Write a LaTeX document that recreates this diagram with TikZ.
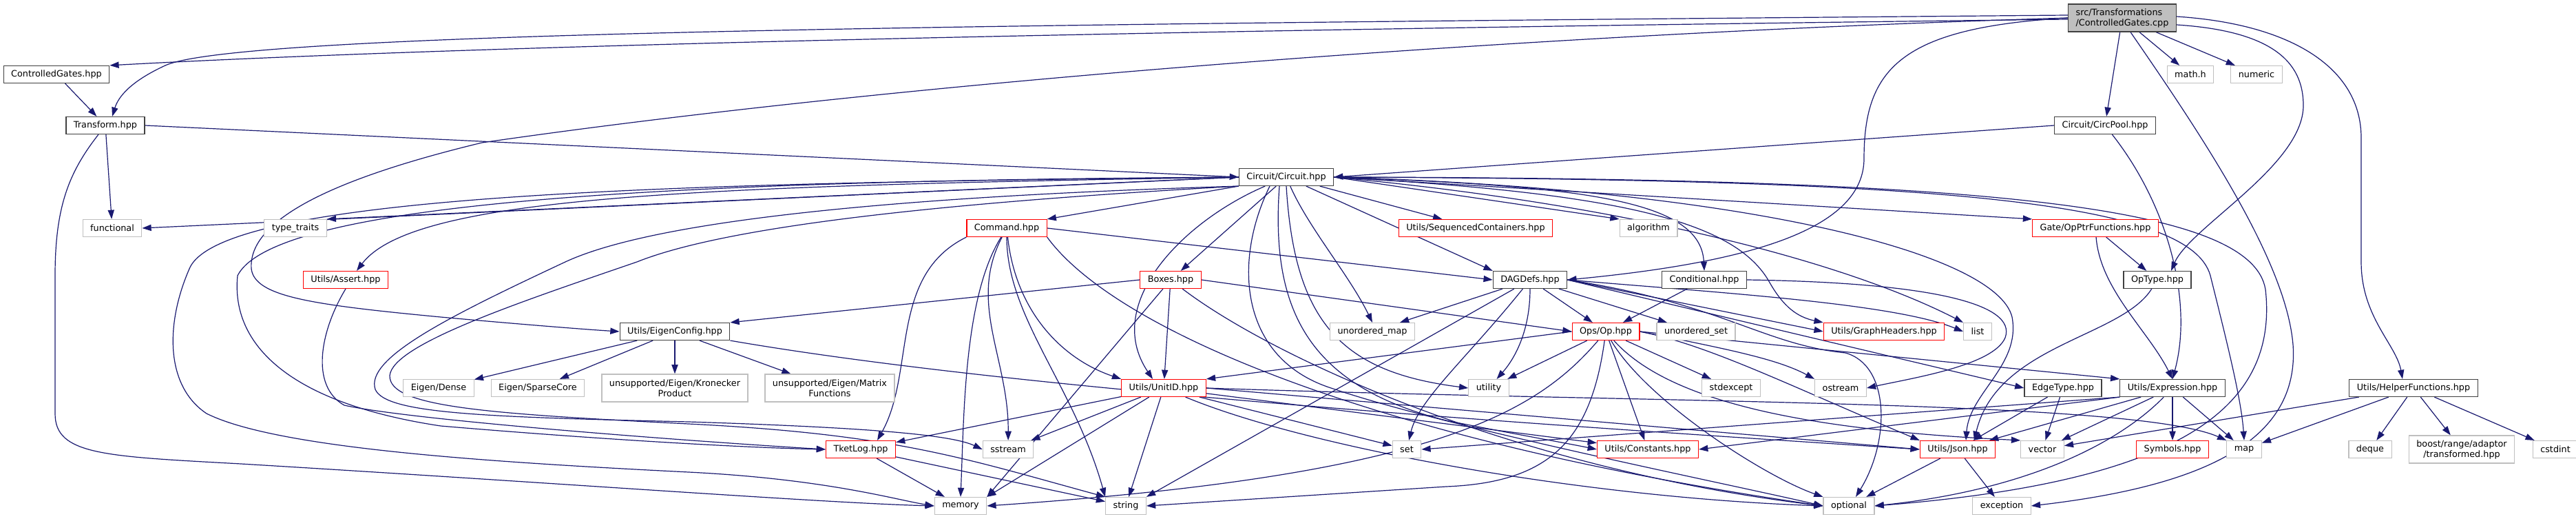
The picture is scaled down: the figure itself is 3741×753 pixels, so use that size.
\documentclass[tikz,border=0pt]{standalone}
\usepackage{fontspec}
\setmainfont{DejaVu Sans}
\usepackage{tikz}
\usetikzlibrary{arrows.meta}
\usetikzlibrary{backgrounds}
\definecolor{edgeblue}{RGB}{25,25,112}
\definecolor{grey75}{RGB}{191,191,191}
\definecolor{grey25}{RGB}{64,64,64}

\begin{document}
\begin{tikzpicture}[x=0.5pt,y=-0.5pt,
  every node/.style={draw,rectangle,fill=white,inner xsep=5.5pt,inner ysep=0pt,
    minimum height=12.5pt,line width=0.6pt,font=\fontsize{6.4}{7.5}\selectfont},
  root/.style={draw=grey25,fill=grey75,align=left,minimum height=20pt},
  hdr/.style={draw=grey25},
  cut/.style={draw=red},
  sys/.style={draw=grey75},
  two/.style={align=center,minimum height=20pt},
  inc/.style={draw=edgeblue,line width=0.6pt,-{Triangle[length=6.6pt,width=4.6pt]}}]
\useasboundingbox (0,0) rectangle (3741,753);
\node[root] (cpp) at (3082,26) {src/Transformations\\/ControlledGates.cpp};
\node[hdr] (cgh) at (82,108) {ControlledGates.hpp};
\node[sys] (mathh) at (3181,108) {math.h};
\node[sys] (numeric) at (3277,108) {numeric};
\node[hdr] (transform) at (153,182) {Transform.hpp};
\node[hdr] (circpool) at (3057,182) {Circuit/CircPool.hpp};
\node[hdr] (circuit) at (1868,257) {Circuit/Circuit.hpp};
\node[sys] (functional) at (163,331) {functional};
\node[sys] (typetraits) at (429,331) {type\_traits};
\node[cut] (command) at (1462,331) {Command.hpp};
\node[cut] (seqcont) at (2143,331) {Utils/SequencedContainers.hpp};
\node[sys] (algorithm) at (2394,331) {algorithm};
\node[cut] (opptr) at (3043,331) {Gate/OpPtrFunctions.hpp};
\node[cut] (assert) at (502,406) {Utils/Assert.hpp};
\node[cut] (boxes) at (1700,406) {Boxes.hpp};
\node[hdr] (dagdefs) at (2222,406) {DAGDefs.hpp};
\node[hdr] (conditional) at (2475,406) {Conditional.hpp};
\node[hdr] (optype) at (3133,406) {OpType.hpp};
\node[hdr] (eigencfg) at (980,481) {Utils/EigenConfig.hpp};
\node[sys] (umap) at (1993,481) {unordered\_map};
\node[cut] (op) at (2332,481) {Ops/Op.hpp};
\node[sys] (uset) at (2463,481) {unordered\_set};
\node[cut] (graphhdr) at (2736,481) {Utils/GraphHeaders.hpp};
\node[sys] (list) at (2872,481) {list};
\node[sys] (dense) at (637,563) {Eigen/Dense};
\node[sys] (sparse) at (781,563) {Eigen/SparseCore};
\node[sys,two] (kron) at (980,563) {unsupported/Eigen/Kronecker\\Product};
\node[sys,two] (matfun) at (1205,563) {unsupported/Eigen/Matrix\\Functions};
\node[cut] (unitid) at (1690,563) {Utils/UnitID.hpp};
\node[sys] (utility) at (2162,563) {utility};
\node[sys] (stdexcept) at (2514,563) {stdexcept};
\node[sys] (ostream) at (2673,563) {ostream};
\node[hdr] (edgetype) at (2996,563) {EdgeType.hpp};
\node[hdr] (expression) at (3155,563) {Utils/Expression.hpp};
\node[hdr] (helper) at (3505,563) {Utils/HelperFunctions.hpp};
\node[cut] (tketlog) at (1250,652) {TketLog.hpp};
\node[sys] (sstream) at (1464,652) {sstream};
\node[sys] (set) at (2043,652) {set};
\node[cut] (constants) at (2393,652) {Utils/Constants.hpp};
\node[cut] (json) at (2843,652) {Utils/Json.hpp};
\node[sys] (vector) at (2966,652) {vector};
\node[cut] (symbols) at (3155,652) {Symbols.hpp};
\node[sys] (map) at (3259,652) {map};
\node[sys] (deque) at (3442,652) {deque};
\node[sys,two] (boost) at (3575,652) {boost/range/adaptor\\/transformed.hpp};
\node[sys] (cstdint) at (3711,652) {cstdint};
\node[sys] (memory) at (1395,734) {memory};
\node[sys] (string) at (1635,734) {string};
\node[sys] (optional) at (2685,734) {optional};
\node[sys] (exception) at (2907,734) {exception};

\begin{scope}[on background layer]
\path[fill=white] (0,0) rectangle (3741,753);
\draw[inc] ([yshift=-1pt]cpp.west) .. controls (2000,40) and (800,60) .. (cgh.north east);
\draw[inc] ([yshift=2pt]cpp.west) .. controls (1500,35) and (350,45) .. (240,95) .. controls (190,118) and (172,140) .. ([xshift=5pt]transform.north);
\draw[inc] (cpp.west) .. controls (2200,50) and (1300,120) .. (700,207) .. controls (480,260) and (360,320) .. (365,390) .. controls (370,430) and (450,442) .. (640,460) .. controls (750,470) and (850,478) .. (eigencfg.west);
\draw[inc] (cpp.west) .. controls (2760,40) and (2707,100) .. (2707,230) .. controls (2707,330) and (2550,380) .. (dagdefs.east);
\draw[inc] (cpp) -- (circpool);
\draw[inc] (cpp) -- (mathh);
\draw[inc] (cpp) -- (numeric);
\draw[inc] ([yshift=-5pt]cpp.east) .. controls (3300,45) and (3345,90) .. (3345,153) .. controls (3345,240) and (3180,330) .. ([xshift=10pt]optype.north);
\draw[inc] ([yshift=1pt]cpp.east) .. controls (3330,35) and (3429,100) .. (3429,200) -- (3429,380) .. controls (3429,460) and (3480,500) .. ([xshift=-8pt]helper.north);
\draw[inc] ([xshift=6pt]cpp.south) .. controls (3200,200) and (3320,380) .. (3330,500) .. controls (3340,640) and (3200,705) .. (exception.east);
\draw[inc] (cgh) -- (transform);
\draw[inc] (transform.east) -- (circuit.west);
\draw[inc] (transform) -- (functional);
\draw[inc] ([xshift=-5pt]transform.south) .. controls (100,250) and (80,300) .. (80,400) -- (80,600) .. controls (80,660) and (150,662) .. (350,673) .. controls (800,700) and (1200,730) .. (memory.west);
\draw[inc] (circpool.west) -- (circuit.east);
\draw[inc] (circpool) .. controls (3150,300) and (3185,440) .. (expression.north);
\draw[inc] (circuit.west) -- (functional.east);
\draw[inc] (circuit.west) -- (typetraits.north east);
\draw[inc] (circuit.west) .. controls (1000,270) and (600,285) .. ([xshift=8pt]assert.north);
\draw[inc] (circuit.west) .. controls (1000,262) and (400,290) .. (345,400) .. controls (335,500) and (420,585) .. (640,618) .. controls (900,640) and (1100,650) .. (tketlog.west);
\draw[inc] (circuit.west) .. controls (1000,265) and (320,280) .. (275,390) .. controls (240,470) and (240,560) .. (300,600) .. controls (400,650) and (700,670) .. (1000,685) .. controls (1200,695) and (1300,725) .. (memory.west);
\draw[inc] (circuit.south west) .. controls (1300,285) and (950,320) .. (821,380) .. controls (650,460) and (530,520) .. (545,565) .. controls (560,600) and (700,605) .. (1000,612) .. controls (1250,620) and (1380,630) .. (sstream.west);
\draw[inc] (circuit.south west) .. controls (1350,295) and (1050,330) .. (925,380) .. controls (750,440) and (570,500) .. (566,545) .. controls (565,590) and (700,600) .. (1000,615) .. controls (1300,630) and (1400,665) .. (string.north west);
\draw[inc] (circuit.south west) -- (command.north east);
\draw[inc] (circuit) -- (boxes);
\draw[inc] (circuit) .. controls (1720,320) and (1600,440) .. ([xshift=-8pt]unitid.north);
\draw[inc] (circuit) .. controls (1900,330) and (1960,400) .. (umap.north);
\draw[inc] (circuit) -- (dagdefs.north west);
\draw[inc] (circuit.south) .. controls (1880,470) and (1950,540) .. (utility.west);
\draw[inc] ([xshift=-5pt]circuit.south) .. controls (1845,450) and (1900,560) .. (2100,610) .. controls (2200,630) and (2270,642) .. (constants.west);
\draw[inc] ([xshift=-12pt]circuit.south) .. controls (1790,380) and (1800,520) .. (1933,563) .. controls (2100,620) and (2500,700) .. (optional.west);
\draw[inc] (circuit) -- (seqcont);
\draw[inc] (circuit.east) -- (algorithm.north west);
\draw[inc] (circuit.east) .. controls (2300,270) and (2470,290) .. (conditional.north);
\draw[inc] (circuit.east) .. controls (2350,280) and (2520,320) .. (2570,410) .. controls (2590,445) and (2610,460) .. (graphhdr.north west);
\draw[inc] (circuit.east) .. controls (2400,300) and (2700,390) .. (list.north west);
\draw[inc] (circuit.east) -- (opptr.north west);
\draw[inc] (circuit.east) .. controls (2550,275) and (2900,370) .. (2922,460) .. controls (2935,530) and (2860,570) .. ([xshift=6pt]json.north);
\draw[inc] (circuit.east) .. controls (2800,260) and (3180,290) .. (3210,400) .. controls (3235,500) and (3255,580) .. (map.north);
\draw[inc] (circuit.east) .. controls (2900,258) and (3270,300) .. (3290,420) .. controls (3310,600) and (3150,700) .. (optional.east);
\draw[inc] (command.east) -- (dagdefs.west);
\draw[inc] (command.south west) .. controls (1290,400) and (1330,540) .. ([xshift=12pt]tketlog.north);
\draw[inc] (command) .. controls (1400,430) and (1400,600) .. (memory.north);
\draw[inc] (command) .. controls (1405,440) and (1465,520) .. (sstream);
\draw[inc] (command) .. controls (1475,450) and (1540,520) .. (unitid.north west);
\draw[inc] (command) .. controls (1462,460) and (1560,560) .. (string.north west);
\draw[inc] (command.south east) .. controls (1620,480) and (2000,640) .. (optional.west);
\draw[inc] (boxes.west) -- (eigencfg.north east);
\draw[inc] (boxes.east) -- (op.west);
\draw[inc] (boxes) -- (unitid);
\draw[inc] (boxes) -- (memory.north east);
\draw[inc] (boxes) .. controls (1850,520) and (2200,680) .. (optional.west);
\draw[inc] (assert.south) .. controls (465,480) and (450,560) .. (500,588) .. controls (600,610) and (1000,640) .. (tketlog.west);
\draw[inc] (dagdefs) -- (umap);
\draw[inc] (dagdefs) -- (op);
\draw[inc] (dagdefs) -- (uset);
\draw[inc] (dagdefs) .. controls (2222,480) and (2200,520) .. (utility);
\draw[inc] (dagdefs) -- (string.north east);
\draw[inc] (dagdefs) .. controls (2130,520) and (2060,580) .. (set);
\draw[inc] (dagdefs.east) -- (edgetype.west);
\draw[inc] (dagdefs.east) -- (graphhdr.west);
\draw[inc] (dagdefs.east) .. controls (2500,425) and (2750,440) .. (list.west);
\draw[inc] (dagdefs.east) .. controls (2500,440) and (2560,500) .. (2680,512) .. controls (2745,530) and (2745,640) .. ([xshift=5pt]optional.north);
\draw[inc] (conditional) -- (op);
\draw[inc] (conditional.east) .. controls (2800,410) and (2930,440) .. (2912,490) .. controls (2895,530) and (2780,548) .. (ostream.east);
\draw[inc] (opptr) -- (optype);
\draw[inc] (opptr) .. controls (3050,420) and (3120,480) .. (expression.north);
\draw[inc] (optype) .. controls (3080,490) and (2900,500) .. ([xshift=12pt]json.north);
\draw[inc] (eigencfg) -- (dense);
\draw[inc] (eigencfg) -- (sparse);
\draw[inc] (eigencfg) -- (kron);
\draw[inc] (eigencfg) -- (matfun);
\draw[inc] (eigencfg.south east) .. controls (1500,570) and (2300,620) .. (json.west);
\draw[inc] (op) -- (utility);
\draw[inc] (op.west) -- (unitid.north east);
\draw[inc] (op) .. controls (2230,600) and (2080,690) .. (memory.east);
\draw[inc] (op) .. controls (2310,640) and (2250,700) .. (2100,706) -- (string.east);
\draw[inc] (op) -- (constants);
\draw[inc] (op) -- (stdexcept);
\draw[inc] (op.east) .. controls (2500,505) and (2580,520) .. (ostream.north west);
\draw[inc] (op.east) .. controls (2480,500) and (2600,560) .. (json.north west);
\draw[inc] (op) .. controls (2390,580) and (2560,690) .. (optional.north west);
\draw[inc] (op.east) -- (expression.north west);
\draw[inc] (op) .. controls (2430,590) and (2650,625) .. (vector.north west);
\draw[inc] (unitid) -- (tketlog);
\draw[inc] (unitid) -- (sstream);
\draw[inc] (unitid) -- (memory.north east);
\draw[inc] (unitid) -- (string);
\draw[inc] (unitid) -- (set);
\draw[inc] (unitid.east) .. controls (2400,585) and (3100,580) .. (map.north west);
\draw[inc] (unitid.east) -- (json.west);
\draw[inc] (unitid) .. controls (1900,650) and (2300,722) .. (optional.west);
\draw[inc] (unitid) -- (constants);
\draw[inc] (edgetype) -- (json);
\draw[inc] (edgetype) -- (vector);
\draw[inc] (expression) -- (json);
\draw[inc] (expression) -- (vector);
\draw[inc] (expression) -- (symbols);
\draw[inc] (expression) -- (map);
\draw[inc] (expression.south west) -- (set.east);
\draw[inc] (expression.south west) -- (constants.east);
\draw[inc] (expression) .. controls (3080,640) and (2950,710) .. (optional.east);
\draw[inc] (helper) -- (vector);
\draw[inc] (helper) -- (map);
\draw[inc] (helper) -- (deque);
\draw[inc] (helper) -- (boost);
\draw[inc] (helper) -- (cstdint);
\draw[inc] (tketlog) -- (memory);
\draw[inc] (tketlog) -- (string);
\draw[inc] (json) -- (optional);
\draw[inc] (json) -- (exception);
\end{scope}
\end{tikzpicture}
\end{document}
